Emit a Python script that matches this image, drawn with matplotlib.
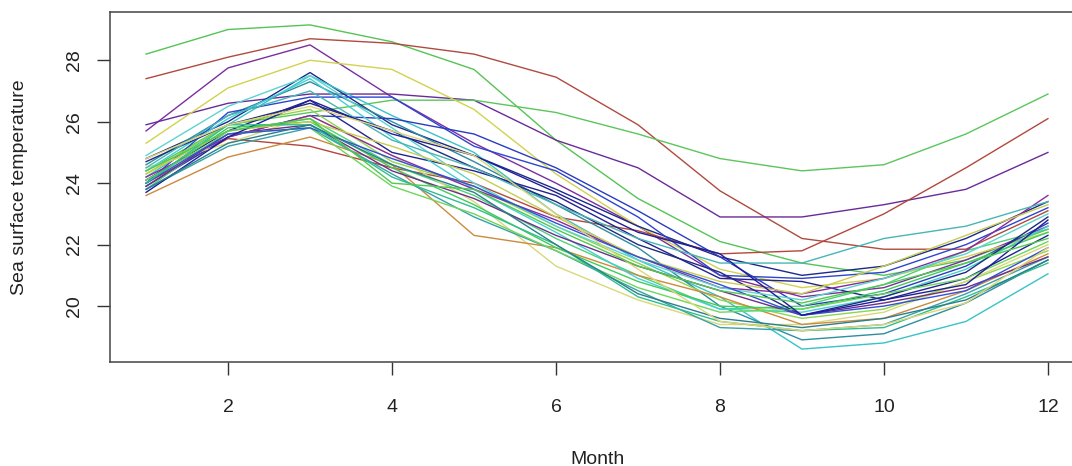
import matplotlib
matplotlib.use("Agg")
import matplotlib.pyplot as plt

months = list(range(1, 13))

green_a = [28.2, 29.0, 29.15, 28.6, 27.7, 25.4, 23.5, 22.1, 21.4, 21.0, 21.5, 22.5]
red_a = [27.4, 28.1, 28.7, 28.55, 28.2, 27.45, 25.9, 23.75, 22.2, 21.85, 21.85, 23.1]
purple_a = [25.7, 27.75, 28.5, 26.8, 25.3, 24.0, 22.6, 21.0, 20.3, 20.6, 21.5, 22.6]
purple_b = [25.9, 26.6, 26.9, 26.9, 26.7, 25.4, 24.5, 22.9, 22.9, 23.3, 23.8, 25.0]
green_b = [24.4, 25.9, 26.3, 26.7, 26.7, 26.3, 25.6, 24.8, 24.4, 24.6, 25.6, 26.9]
yellow_a = [25.3, 27.1, 28.0, 27.7, 26.4, 24.3, 22.6, 21.2, 20.6, 20.9, 21.6, 22.4]
red_b = [24.0, 25.45, 25.2, 24.5, 24.0, 22.9, 22.45, 21.7, 21.8, 23.0, 24.5, 26.1]
navy_a = [24.8, 26.0, 27.6, 25.9, 24.9, 23.8, 22.6, 21.6, 21.0, 21.3, 22.2, 23.4]
cyan_a = [24.2, 25.9, 27.5, 26.2, 25.0, 23.0, 21.5, 20.3, 18.6, 18.8, 19.5, 21.05]
teal_a = [24.6, 26.2, 27.3, 26.0, 24.7, 23.3, 21.9, 20.0, 18.9, 19.1, 20.1, 21.5]
blue_a = [24.0, 26.3, 26.8, 26.8, 25.2, 24.4, 22.9, 21.0, 20.9, 21.1, 22.0, 23.2]
navy_b = [24.1, 25.7, 26.7, 25.0, 24.4, 23.6, 22.2, 20.9, 20.8, 20.2, 20.9, 22.3]
blue_b = [23.9, 25.5, 26.2, 26.1, 25.6, 24.5, 23.1, 21.6, 20.0, 20.4, 21.3, 22.7]
green_c = [23.8, 25.7, 26.1, 24.6, 23.6, 22.2, 21.0, 19.9, 20.0, 20.7, 21.8, 22.5]
lime_a = [24.3, 25.9, 26.4, 24.7, 23.9, 22.6, 21.4, 20.2, 19.6, 19.9, 20.8, 21.8]
yellow_b = [24.5, 25.3, 26.2, 24.9, 23.4, 21.3, 20.2, 19.4, 19.4, 19.8, 20.8, 22.0]
orange_a = [23.6, 24.85, 25.5, 24.6, 22.3, 21.9, 21.0, 20.3, 19.4, 19.6, 20.5, 21.7]
cyan_b = [24.4, 26.1, 27.4, 25.5, 23.8, 22.4, 20.9, 19.9, 19.8, 20.3, 21.2, 22.6]
teal_b = [23.8, 25.2, 25.8, 24.3, 22.9, 21.8, 20.5, 19.3, 19.2, 19.4, 20.4, 21.6]
green_d = [24.0, 25.8, 26.0, 24.5, 23.3, 21.9, 20.8, 20.0, 19.9, 20.5, 21.4, 22.4]
purple_c = [24.2, 25.5, 26.2, 24.9, 23.8, 22.8, 21.6, 20.6, 20.4, 20.9, 21.8, 23.6]
purple_d = [23.9, 25.6, 25.9, 24.4, 23.5, 22.3, 21.3, 20.5, 19.7, 20.1, 20.6, 21.6]
navy_c = [24.7, 25.9, 26.6, 25.7, 24.5, 23.4, 22.0, 21.1, 19.7, 20.3, 21.1, 22.9]
cyan_c = [24.9, 26.5, 27.5, 25.8, 24.0, 22.6, 21.5, 20.6, 20.2, 20.9, 21.7, 23.0]
yellow_c = [24.3, 25.7, 26.0, 25.2, 24.3, 22.9, 21.6, 20.8, 20.4, 21.3, 22.3, 23.3]
teal_c = [24.5, 26.2, 27.0, 25.4, 24.5, 23.3, 22.2, 21.4, 21.4, 22.2, 22.6, 23.4]
green_e = [24.1, 25.6, 25.8, 23.9, 23.0, 21.8, 20.6, 19.8, 19.9, 20.4, 20.9, 22.1]
blue_c = [24.0, 25.6, 25.8, 24.8, 23.9, 22.7, 21.6, 20.7, 19.7, 20.0, 20.5, 21.9]
navy_d = [23.7, 25.5, 26.7, 25.6, 24.9, 23.7, 22.4, 21.7, 19.7, 20.2, 20.7, 22.8]
sea_a = [24.0, 25.9, 25.9, 24.2, 23.2, 22.0, 20.3, 19.5, 19.2, 19.3, 20.3, 21.4]
teal_d = [23.8, 25.3, 25.9, 24.6, 23.7, 22.0, 20.4, 19.6, 19.3, 19.6, 20.2, 21.5]
yellow_d = [24.8, 25.9, 26.5, 25.7, 24.9, 23.0, 21.2, 19.5, 19.2, 19.4, 20.1, 21.9]
green_f = [24.4, 25.7, 26.1, 24.0, 23.8, 22.5, 21.3, 20.5, 20.1, 20.7, 21.4, 22.2]

series = [
    (green_a, "#55c455"), (red_a, "#b04a40"), (purple_a, "#7b2f9f"),
    (purple_b, "#6a2a9a"), (green_b, "#5bc65b"), (yellow_a, "#d2d24e"),
    (red_b, "#b3473d"), (navy_a, "#1c2a8c"), (cyan_a, "#37c3c8"),
    (teal_a, "#2c8e9e"), (blue_a, "#2d45d0"), (navy_b, "#23238f"),
    (blue_b, "#2a3cc0"), (green_c, "#4fd07a"), (lime_a, "#8fd64a"),
    (yellow_b, "#d8d87a"), (orange_a, "#cc8a3c"), (cyan_b, "#46cfd6"),
    (teal_b, "#3aa0a8"), (green_d, "#3fcc5a"), (purple_c, "#8a2c9c"),
    (purple_d, "#6e2f8a"), (navy_c, "#202a80"), (cyan_c, "#5cd4d0"),
    (yellow_c, "#c8cc52"), (teal_c, "#49b5b5"), (green_e, "#6ed65c"),
    (blue_c, "#3250d8"), (navy_d, "#1e1e99"), (sea_a, "#2fbf8f"),
    (teal_d, "#2b7f8c"), (yellow_d, "#e0d47a"), (green_f, "#51c951"),
]

plt.rcParams["font.family"] = ["Liberation Sans", "DejaVu Sans"]

fig = plt.figure(figsize=(10.72, 4.66), dpi=100)
ax = fig.add_axes([110 / 1072, 104 / 466, 974 / 1072, 350 / 466])

for values, color in series:
    ax.plot(months, values, color=color, lw=1.0)

ax.set_xlim(0.56, 12.44)
ax.set_ylim(18.18, 29.57)
ax.set_xticks([2, 4, 6, 8, 10, 12])
ax.set_yticks([20, 22, 24, 26, 28])
ax.tick_params(axis="both", direction="out", length=9.5, width=1.0,
               color="#333333", labelsize=14, labelcolor="#222222")
ax.tick_params(axis="x", pad=17)
ax.tick_params(axis="y", pad=10)
for lbl in ax.get_yticklabels():
    lbl.set_rotation(90)
    lbl.set_va("center")
for spine in ax.spines.values():
    spine.set_color("#444444")
    spine.set_linewidth(1.1)

ax.set_xlabel("Month", fontsize=14, color="#222222", labelpad=25)
ax.set_ylabel("Sea surface temperature", fontsize=14, color="#222222", labelpad=27)

fig.savefig("out.png", dpi=100)
